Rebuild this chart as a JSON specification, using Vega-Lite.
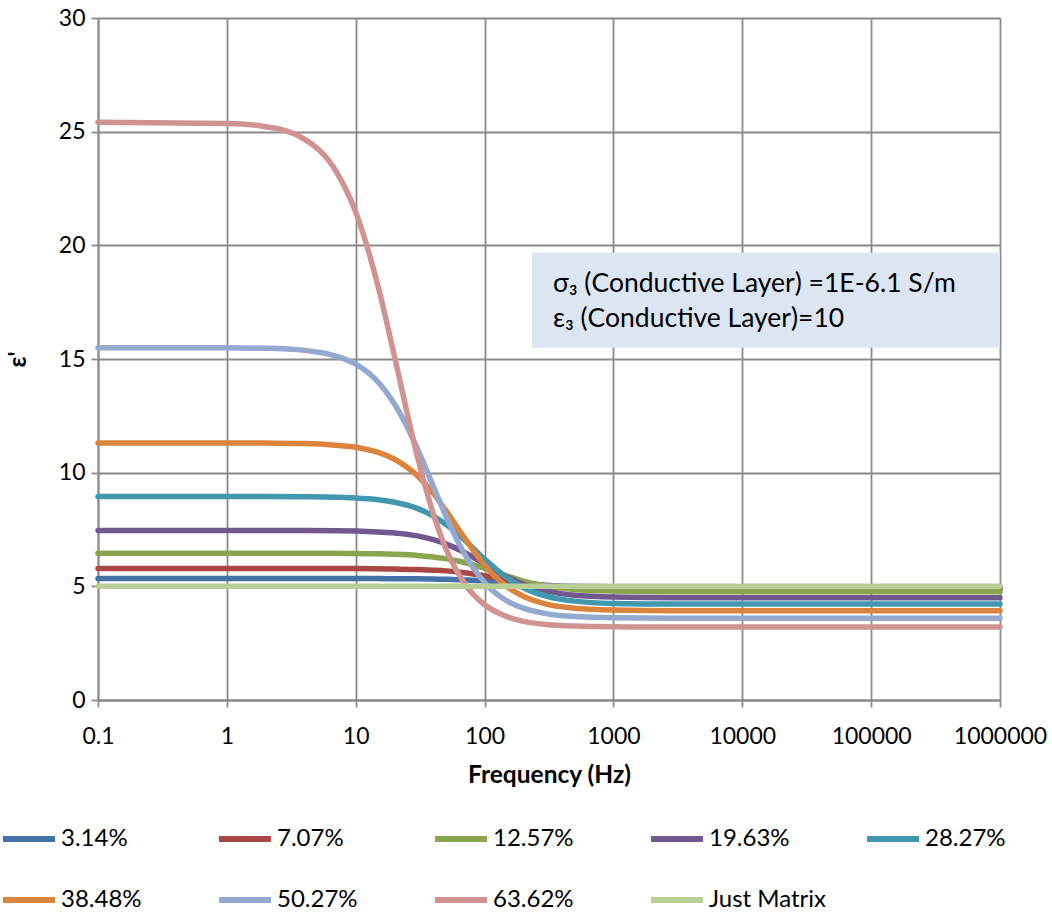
{
  "$schema": "https://vega.github.io/schema/vega-lite/v6.json",
  "width": 902,
  "height": 682,
  "autosize": {"type": "none"},
  "padding": {"left": 98, "top": 18, "right": 52, "bottom": 216},
  "background": "white",
  "config": {
    "view": {"stroke": null},
    "font": "Lato",
    "axis": {
      "labelFont": "Lato",
      "titleFont": "Lato",
      "labelColor": "#000000",
      "titleColor": "#000000",
      "grid": true,
      "gridColor": "#8a8a8a",
      "gridWidth": 1.8,
      "gridOpacity": 1,
      "domainColor": "#8a8a8a",
      "domainWidth": 1.8,
      "tickColor": "#8a8a8a",
      "tickWidth": 1.8,
      "tickSize": 7
    }
  },
  "data": {"name": "curves", "values": [
      {"series":"3.14%","freq":0.1,"eps":5.34},{"series":"3.14%","freq":1,"eps":5.34},{"series":"3.14%","freq":2,"eps":5.34},{"series":"3.14%","freq":4,"eps":5.34},{"series":"3.14%","freq":7,"eps":5.34},{"series":"3.14%","freq":10,"eps":5.34},{"series":"3.14%","freq":15,"eps":5.34},{"series":"3.14%","freq":20,"eps":5.33},{"series":"3.14%","freq":30,"eps":5.33},{"series":"3.14%","freq":40,"eps":5.32},{"series":"3.14%","freq":50,"eps":5.31},{"series":"3.14%","freq":70,"eps":5.28},{"series":"3.14%","freq":100,"eps":5.24},{"series":"3.14%","freq":150,"eps":5.17},{"series":"3.14%","freq":200,"eps":5.11},{"series":"3.14%","freq":300,"eps":5.05},{"series":"3.14%","freq":500,"eps":5.00},{"series":"3.14%","freq":1000,"eps":4.98},{"series":"3.14%","freq":3000,"eps":4.97},{"series":"3.14%","freq":10000,"eps":4.97},{"series":"3.14%","freq":100000,"eps":4.97},{"series":"3.14%","freq":1000000,"eps":4.97},
      {"series":"7.07%","freq":0.1,"eps":5.78},{"series":"7.07%","freq":1,"eps":5.78},{"series":"7.07%","freq":2,"eps":5.78},{"series":"7.07%","freq":4,"eps":5.78},{"series":"7.07%","freq":7,"eps":5.78},{"series":"7.07%","freq":10,"eps":5.78},{"series":"7.07%","freq":15,"eps":5.77},{"series":"7.07%","freq":20,"eps":5.76},{"series":"7.07%","freq":30,"eps":5.74},{"series":"7.07%","freq":40,"eps":5.71},{"series":"7.07%","freq":50,"eps":5.68},{"series":"7.07%","freq":70,"eps":5.60},{"series":"7.07%","freq":100,"eps":5.47},{"series":"7.07%","freq":150,"eps":5.29},{"series":"7.07%","freq":200,"eps":5.17},{"series":"7.07%","freq":300,"eps":5.03},{"series":"7.07%","freq":500,"eps":4.94},{"series":"7.07%","freq":1000,"eps":4.89},{"series":"7.07%","freq":3000,"eps":4.87},{"series":"7.07%","freq":10000,"eps":4.87},{"series":"7.07%","freq":100000,"eps":4.87},{"series":"7.07%","freq":1000000,"eps":4.87},
      {"series":"12.57%","freq":0.1,"eps":6.45},{"series":"12.57%","freq":1,"eps":6.45},{"series":"12.57%","freq":2,"eps":6.45},{"series":"12.57%","freq":4,"eps":6.45},{"series":"12.57%","freq":7,"eps":6.45},{"series":"12.57%","freq":10,"eps":6.44},{"series":"12.57%","freq":15,"eps":6.43},{"series":"12.57%","freq":20,"eps":6.41},{"series":"12.57%","freq":30,"eps":6.36},{"series":"12.57%","freq":40,"eps":6.29},{"series":"12.57%","freq":50,"eps":6.22},{"series":"12.57%","freq":70,"eps":6.05},{"series":"12.57%","freq":100,"eps":5.79},{"series":"12.57%","freq":150,"eps":5.45},{"series":"12.57%","freq":200,"eps":5.23},{"series":"12.57%","freq":300,"eps":5.01},{"series":"12.57%","freq":500,"eps":4.86},{"series":"12.57%","freq":1000,"eps":4.79},{"series":"12.57%","freq":3000,"eps":4.76},{"series":"12.57%","freq":10000,"eps":4.76},{"series":"12.57%","freq":100000,"eps":4.76},{"series":"12.57%","freq":1000000,"eps":4.76},
      {"series":"19.63%","freq":0.1,"eps":7.46},{"series":"19.63%","freq":1,"eps":7.46},{"series":"19.63%","freq":2,"eps":7.46},{"series":"19.63%","freq":4,"eps":7.46},{"series":"19.63%","freq":7,"eps":7.45},{"series":"19.63%","freq":10,"eps":7.43},{"series":"19.63%","freq":15,"eps":7.39},{"series":"19.63%","freq":20,"eps":7.35},{"series":"19.63%","freq":30,"eps":7.22},{"series":"19.63%","freq":40,"eps":7.05},{"series":"19.63%","freq":50,"eps":6.87},{"series":"19.63%","freq":70,"eps":6.49},{"series":"19.63%","freq":100,"eps":5.98},{"series":"19.63%","freq":150,"eps":5.41},{"series":"19.63%","freq":200,"eps":5.09},{"series":"19.63%","freq":300,"eps":4.80},{"series":"19.63%","freq":500,"eps":4.61},{"series":"19.63%","freq":1000,"eps":4.53},{"series":"19.63%","freq":3000,"eps":4.50},{"series":"19.63%","freq":10000,"eps":4.50},{"series":"19.63%","freq":100000,"eps":4.50},{"series":"19.63%","freq":1000000,"eps":4.50},
      {"series":"28.27%","freq":0.1,"eps":8.95},{"series":"28.27%","freq":1,"eps":8.95},{"series":"28.27%","freq":2,"eps":8.95},{"series":"28.27%","freq":4,"eps":8.94},{"series":"28.27%","freq":7,"eps":8.92},{"series":"28.27%","freq":10,"eps":8.89},{"series":"28.27%","freq":15,"eps":8.81},{"series":"28.27%","freq":20,"eps":8.70},{"series":"28.27%","freq":30,"eps":8.43},{"series":"28.27%","freq":40,"eps":8.09},{"series":"28.27%","freq":50,"eps":7.73},{"series":"28.27%","freq":70,"eps":7.04},{"series":"28.27%","freq":100,"eps":6.20},{"series":"28.27%","freq":150,"eps":5.37},{"series":"28.27%","freq":200,"eps":4.94},{"series":"28.27%","freq":300,"eps":4.57},{"series":"28.27%","freq":500,"eps":4.35},{"series":"28.27%","freq":1000,"eps":4.25},{"series":"28.27%","freq":3000,"eps":4.22},{"series":"28.27%","freq":10000,"eps":4.22},{"series":"28.27%","freq":100000,"eps":4.22},{"series":"28.27%","freq":1000000,"eps":4.22},
      {"series":"38.48%","freq":0.1,"eps":11.31},{"series":"38.48%","freq":1,"eps":11.31},{"series":"38.48%","freq":2,"eps":11.30},{"series":"38.48%","freq":4,"eps":11.28},{"series":"38.48%","freq":7,"eps":11.21},{"series":"38.48%","freq":10,"eps":11.12},{"series":"38.48%","freq":15,"eps":10.89},{"series":"38.48%","freq":20,"eps":10.59},{"series":"38.48%","freq":30,"eps":9.87},{"series":"38.48%","freq":40,"eps":9.09},{"series":"38.48%","freq":50,"eps":8.34},{"series":"38.48%","freq":70,"eps":7.12},{"series":"38.48%","freq":100,"eps":5.93},{"series":"38.48%","freq":150,"eps":4.98},{"series":"38.48%","freq":200,"eps":4.56},{"series":"38.48%","freq":300,"eps":4.22},{"series":"38.48%","freq":500,"eps":4.04},{"series":"38.48%","freq":1000,"eps":3.96},{"series":"38.48%","freq":3000,"eps":3.93},{"series":"38.48%","freq":10000,"eps":3.93},{"series":"38.48%","freq":100000,"eps":3.93},{"series":"38.48%","freq":1000000,"eps":3.93},
      {"series":"50.27%","freq":0.1,"eps":15.50},{"series":"50.27%","freq":1,"eps":15.49},{"series":"50.27%","freq":2,"eps":15.47},{"series":"50.27%","freq":4,"eps":15.38},{"series":"50.27%","freq":7,"eps":15.13},{"series":"50.27%","freq":10,"eps":14.77},{"series":"50.27%","freq":15,"eps":13.97},{"series":"50.27%","freq":20,"eps":13.02},{"series":"50.27%","freq":30,"eps":11.08},{"series":"50.27%","freq":40,"eps":9.40},{"series":"50.27%","freq":50,"eps":8.10},{"series":"50.27%","freq":70,"eps":6.42},{"series":"50.27%","freq":100,"eps":5.17},{"series":"50.27%","freq":150,"eps":4.35},{"series":"50.27%","freq":200,"eps":4.04},{"series":"50.27%","freq":300,"eps":3.80},{"series":"50.27%","freq":500,"eps":3.67},{"series":"50.27%","freq":1000,"eps":3.62},{"series":"50.27%","freq":3000,"eps":3.60},{"series":"50.27%","freq":10000,"eps":3.60},{"series":"50.27%","freq":100000,"eps":3.60},{"series":"50.27%","freq":1000000,"eps":3.60},
      {"series":"63.62%","freq":0.1,"eps":25.41},{"series":"63.62%","freq":1,"eps":25.36},{"series":"63.62%","freq":2,"eps":25.22},{"series":"63.62%","freq":4,"eps":24.67},{"series":"63.62%","freq":7,"eps":23.28},{"series":"63.62%","freq":10,"eps":21.46},{"series":"63.62%","freq":15,"eps":18.14},{"series":"63.62%","freq":20,"eps":15.11},{"series":"63.62%","freq":30,"eps":10.74},{"series":"63.62%","freq":40,"eps":8.19},{"series":"63.62%","freq":50,"eps":6.67},{"series":"63.62%","freq":70,"eps":5.12},{"series":"63.62%","freq":100,"eps":4.19},{"series":"63.62%","freq":150,"eps":3.66},{"series":"63.62%","freq":200,"eps":3.46},{"series":"63.62%","freq":300,"eps":3.32},{"series":"63.62%","freq":500,"eps":3.25},{"series":"63.62%","freq":1000,"eps":3.22},{"series":"63.62%","freq":3000,"eps":3.21},{"series":"63.62%","freq":10000,"eps":3.21},{"series":"63.62%","freq":100000,"eps":3.21},{"series":"63.62%","freq":1000000,"eps":3.21},
      {"series":"Just Matrix","freq":0.1,"eps":5.0},{"series":"Just Matrix","freq":1,"eps":5.0},{"series":"Just Matrix","freq":100,"eps":5.0},{"series":"Just Matrix","freq":10000,"eps":5.0},{"series":"Just Matrix","freq":1000000,"eps":5.0}
  ]},
  "layer": [
    {
      "data": {"values": [{"note": "box"}]},
      "mark": {"type": "rect", "color": "#DCE6F2"},
      "encoding": {
        "x": {"datum": 233, "type": "quantitative"},
        "x2": {"datum": 1000000},
        "y": {"datum": 19.67, "type": "quantitative"},
        "y2": {"datum": 15.49}
      }
    },
    {
      "data": {"values": [{"note": "line1"}]},
      "mark": {"type": "text", "align": "left", "baseline": "middle", "font": "Lato", "fontSize": 26.5, "color": "#000000"},
      "encoding": {
        "x": {"datum": 339, "type": "quantitative"},
        "y": {"datum": 18.3, "type": "quantitative"},
        "text": {"value": "σ₃ (Conductive Layer) =1E-6.1 S/m"}
      }
    },
    {
      "data": {"values": [{"note": "line2"}]},
      "mark": {"type": "text", "align": "left", "baseline": "middle", "font": "Lato", "fontSize": 26.5, "color": "#000000"},
      "encoding": {
        "x": {"datum": 339, "type": "quantitative"},
        "y": {"datum": 16.75, "type": "quantitative"},
        "text": {"value": "ε₃ (Conductive Layer)=10"}
      }
    },
    {
      "mark": {"type": "line", "interpolate": "monotone", "strokeWidth": 5.5, "strokeCap": "round"},
      "encoding": {
        "x": {
          "field": "freq",
          "type": "quantitative",
          "scale": {"type": "log", "domain": [0.1, 1000000], "nice": false},
          "axis": {
            "title": "Frequency (Hz)",
            "grid": true,
            "titleFontSize": 24.5,
            "titleFontWeight": "bold",
            "titlePadding": 15,
            "labelFontSize": 23,
            "labelPadding": 18,
            "values": [0.1, 1, 10, 100, 1000, 10000, 100000, 1000000],
            "labelExpr": "datum.value < 1 ? '0.1' : format(datum.value, 'd')",
            "labelFlush": false,
            "labelOverlap": false
          }
        },
        "y": {
          "field": "eps",
          "type": "quantitative",
          "scale": {"domain": [0, 30], "nice": false},
          "axis": {
            "title": "ε'",
            "grid": true,
            "titleFontSize": 24,
            "titleFontWeight": "bold",
            "titlePadding": 28,
            "labelFontSize": 23,
            "labelPadding": 6,
            "values": [0, 5, 10, 15, 20, 25, 30]
          }
        },
        "color": {
          "field": "series",
          "type": "nominal",
          "scale": {
            "domain": ["3.14%", "7.07%", "12.57%", "19.63%", "28.27%", "38.48%", "50.27%", "63.62%", "Just Matrix"],
            "range": ["#4572A7", "#AA4643", "#89A54E", "#71588F", "#4198AF", "#DB843D", "#93A9CF", "#D19392", "#B9CD96"]
          },
          "legend": {
            "title": null,
            "orient": "none",
            "legendX": -98,
            "legendY": 792,
            "direction": "horizontal",
            "columns": 5,
            "gridAlign": "all",
            "columnPadding": 28,
            "rowPadding": 20,
            "symbolType": "stroke",
            "symbolSize": 2700,
            "symbolStrokeWidth": 6,
            "labelFont": "Lato",
            "labelFontSize": 24,
            "labelColor": "#000000",
            "labelOffset": 3
          }
        },
        "order": {"field": "freq", "type": "quantitative"}
      }
    }
  ]
}
